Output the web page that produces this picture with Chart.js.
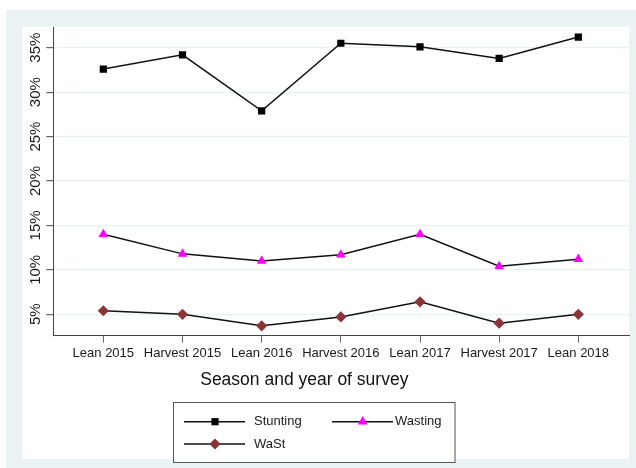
<!DOCTYPE html>
<html>
<head>
<meta charset="utf-8">
<script src="https://cdn.jsdelivr.net/npm/chart.js@4.4.1/dist/chart.umd.min.js"></script>
<style>
  html, body { margin: 0; padding: 0; background: #ffffff; }
  #wrap { width: 636px; height: 468px; position: relative; }
</style>
</head>
<body>
<div id="wrap"><canvas id="c"></canvas></div>
<script>
const categories = ["Lean 2015", "Harvest 2015", "Lean 2016", "Harvest 2016", "Lean 2017", "Harvest 2017", "Lean 2018"];
const stunting = [32.6, 34.2, 27.9, 35.5, 35.1, 33.8, 36.2];
const wasting  = [14.0, 11.8, 11.0, 11.7, 14.0, 10.4, 11.2];
const wast     = [5.4, 5.0, 3.7, 4.7, 6.4, 4.0, 5.0];
const yTicks   = [5, 10, 15, 20, 25, 30, 35];
const seriesNames = ["Stunting", "Wasting", "WaSt"];
const xTitle = "Season and year of survey";

const FONT = "'Liberation Sans', Arial, sans-serif";
const GRAY_BG = "#eaf2f3";
const MAROON = "#8c3338";
const MAGENTA = "#ff00ff";

const toPts = arr => arr.map((v, i) => ({ x: i, y: v }));

function drawMarker(ctx, style, color, x, y) {
  ctx.save();
  ctx.fillStyle = color;
  ctx.beginPath();
  if (style === 'rect') {
    ctx.rect(x - 3.6, y - 3.6, 7.2, 7.2);
  } else if (style === 'triangle') {
    const r = 5.6;
    ctx.moveTo(x, y - r);
    ctx.lineTo(x + r * 0.866, y + r * 0.5);
    ctx.lineTo(x - r * 0.866, y + r * 0.5);
    ctx.closePath();
  } else {
    const r = 5.6;
    ctx.moveTo(x, y - r);
    ctx.lineTo(x + r, y);
    ctx.lineTo(x, y + r);
    ctx.lineTo(x - r, y);
    ctx.closePath();
  }
  ctx.fill();
  ctx.restore();
}

const bgPlugin = {
  id: 'bg',
  beforeDraw(chart) {
    const ctx = chart.ctx;
    ctx.save();
    ctx.fillStyle = '#ffffff';
    ctx.fillRect(0, 0, chart.width, chart.height);
    ctx.fillStyle = GRAY_BG;
    ctx.fillRect(6, 10, chart.width - 6, chart.height - 10);
    ctx.fillStyle = '#ffffff';
    ctx.fillRect(22.3, 26.7, 629 - 22.3, 459 - 26.7);
    ctx.restore();
  },
  afterDraw(chart) {
    const ctx = chart.ctx;
    const ys = chart.scales.y;
    // rotated y tick labels
    ctx.save();
    ctx.fillStyle = '#1a1a1a';
    ctx.font = "15px " + FONT;
    ctx.textAlign = 'center';
    ctx.textBaseline = 'middle';
    yTicks.forEach(v => {
      const py = ys.getPixelForValue(v);
      ctx.save();
      ctx.translate(35.5, py);
      ctx.rotate(-Math.PI / 2);
      ctx.fillText(v + '%', 0, 0);
      ctx.restore();
    });
    ctx.restore();

    // x axis title
    ctx.save();
    ctx.fillStyle = '#111111';
    ctx.font = "17.5px " + FONT;
    ctx.textAlign = 'center';
    ctx.textBaseline = 'middle';
    ctx.fillText(xTitle, 304.3, 380);
    ctx.restore();

    // legend
    ctx.save();
    ctx.fillStyle = '#ffffff';
    ctx.fillRect(173.5, 402.5, 281.5, 60);
    ctx.strokeStyle = '#555555';
    ctx.lineWidth = 1;
    ctx.strokeRect(173.5, 402.5, 281.5, 60);
    const items = [
      { name: seriesNames[0], style: 'rect', color: '#000000', x0: 184, x1: 245, mx: 215, tx: 254, y: 421.7 },
      { name: seriesNames[1], style: 'triangle', color: MAGENTA, x0: 332, x1: 393, mx: 362.7, tx: 395, y: 421.7 },
      { name: seriesNames[2], style: 'diamond', color: MAROON, x0: 184, x1: 245, mx: 215, tx: 254, y: 444 }
    ];
    items.forEach(it => {
      ctx.strokeStyle = '#111111';
      ctx.lineWidth = 1.5;
      ctx.beginPath();
      ctx.moveTo(it.x0, it.y);
      ctx.lineTo(it.x1, it.y);
      ctx.stroke();
      drawMarker(ctx, it.style, it.color, it.mx, it.y);
      ctx.fillStyle = '#1a1a1a';
      ctx.font = "13px " + FONT;
      ctx.textAlign = 'left';
      ctx.textBaseline = 'middle';
      ctx.fillText(it.name, it.tx, it.y);
    });
    ctx.restore();
  }
};

new Chart(document.getElementById('c'), {
  type: 'line',
  data: {
    datasets: [
      { label: seriesNames[0], data: toPts(stunting), borderColor: '#111111', borderWidth: 1.5,
        pointStyle: 'rect', pointRadius: 5.1, pointHoverRadius: 5.1,
        pointBackgroundColor: '#000000', pointBorderColor: '#000000', pointBorderWidth: 0, tension: 0 },
      { label: seriesNames[1], data: toPts(wasting), borderColor: '#111111', borderWidth: 1.5,
        pointStyle: 'triangle', pointRadius: 5.6, pointHoverRadius: 5.6,
        pointBackgroundColor: MAGENTA, pointBorderColor: MAGENTA, pointBorderWidth: 0, tension: 0 },
      { label: seriesNames[2], data: toPts(wast), borderColor: '#111111', borderWidth: 1.5,
        pointStyle: 'rectRot', pointRadius: 5.6, pointHoverRadius: 5.6,
        pointBackgroundColor: MAROON, pointBorderColor: MAROON, pointBorderWidth: 0, tension: 0 }
    ]
  },
  options: {
    responsive: true,
    maintainAspectRatio: false,
    animation: false,
    devicePixelRatio: 1,
    layout: { padding: { top: 27, right: 7, bottom: 0, left: 0 } },
    plugins: { legend: { display: false }, tooltip: { enabled: false } },
    scales: {
      x: {
        type: 'linear',
        min: -0.632,
        max: 6.64,
        afterBuildTicks: s => { s.ticks = categories.map((c, i) => ({ value: i })); },
        afterFit: s => { s.height = 132.3; },
        ticks: {
          autoSkip: false, maxRotation: 0, minRotation: 0, padding: 3,
          color: '#1a1a1a', font: { family: FONT, size: 13 },
          callback: v => categories[v]
        },
        grid: { drawOnChartArea: false, drawTicks: true, tickLength: 7, tickColor: '#666666', color: '#666666' },
        border: { display: true, color: '#444444', width: 1 },
        title: { display: false }
      },
      y: {
        type: 'linear',
        min: 2.59,
        max: 37.33,
        afterBuildTicks: s => { s.ticks = yTicks.map(v => ({ value: v })); },
        afterFit: s => { s.width = 53.3; },
        ticks: { display: false },
        grid: { drawOnChartArea: true, drawTicks: true, tickLength: 7, color: GRAY_BG, tickColor: '#666666', lineWidth: 1.2 },
        border: { display: true, color: '#444444', width: 1 }
      }
    }
  },
  plugins: [bgPlugin]
});
</script>
</body>
</html>
